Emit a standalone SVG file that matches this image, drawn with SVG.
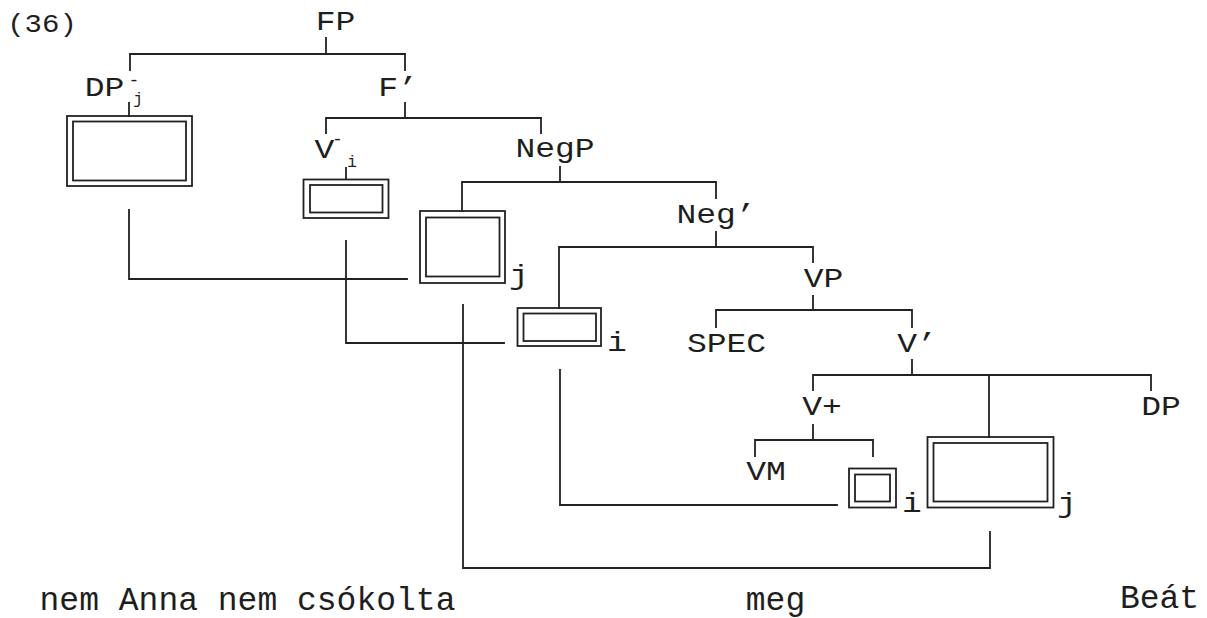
<svg xmlns="http://www.w3.org/2000/svg" width="1207" height="618" viewBox="0 0 1207 618">
<style>
.lbl{font-family:"Liberation Mono","DejaVu Sans Mono",monospace;font-size:33px;fill:#1e1e1e;text-anchor:middle}
.sm{font-family:"Liberation Mono","DejaVu Sans Mono",monospace;fill:#1e1e1e;text-anchor:middle}
.word{font-family:"Liberation Mono","DejaVu Sans Mono",monospace;font-size:33px;fill:#1e1e1e;text-anchor:middle}
.ln{stroke:#222;stroke-width:1.8;fill:none;stroke-linecap:square}
.box{stroke:#222;stroke-width:1.8;fill:none}
</style>
<rect width="1207" height="618" fill="#ffffff"/>
<g id="connectors">
  <path class="ln" d="M326 38V54M130 70V54H405V70"/>
  <path class="ln" d="M129 103V116"/>
  <path class="ln" d="M405 103V118M326 133V118H541V133"/>
  <path class="ln" d="M346 168V179"/>
  <path class="ln" d="M560 167V182M462 211V182H716V198"/>
  <path class="ln" d="M716 232V247M559 308V247H813V262"/>
  <path class="ln" d="M813 296V310M716 327V310H912V327"/>
  <path class="ln" d="M912 360V375M813 390V375H1151V390M989 375V437"/>
  <path class="ln" d="M813 425V440M755 456V440H873V456"/>
  <path class="ln" d="M129 210V279H407"/>
  <path class="ln" d="M346 241V343H504"/>
  <path class="ln" d="M463 305V568H990V532"/>
  <path class="ln" d="M560 370V505H837"/>
</g>
<g id="label-36"><text class="lbl" style="font-size:29px" transform="translate(42 32) scale(1 0.88)">(36)</text></g>
<g id="node-FP"><text class="lbl" transform="translate(335.5 29.5) scale(1 0.82)">FP</text></g>
<g id="node-DPj">
  <text class="lbl" transform="translate(104.5 95.5) scale(1 0.82)">DP</text>
  <text class="sm" x="134" y="86" font-size="18">-</text>
  <text class="sm" x="138" y="103.5" font-size="16">j</text>
</g>
<g id="box-DPj">
  <rect class="box" x="67" y="116" width="125" height="70"/>
  <rect class="box" x="73" y="121.5" width="113" height="59"/>
</g>
<g id="node-Fbar"><text class="lbl" transform="translate(398 96) scale(1 0.82)">F’</text></g>
<g id="node-Vi">
  <text class="lbl" transform="translate(324.5 158) scale(1 0.82)">V</text>
  <text class="sm" x="337.5" y="145" font-size="18">-</text>
  <text class="sm" x="352" y="167" font-size="16">i</text>
</g>
<g id="box-Vi">
  <rect class="box" x="303.5" y="179.5" width="85" height="38.5"/>
  <rect class="box" x="310" y="185" width="72.5" height="27.5"/>
</g>
<g id="node-NegP"><text class="lbl" transform="translate(555 157) scale(1 0.82)">NegP</text></g>
<g id="box-j1">
  <rect class="box" x="420" y="211" width="85" height="72"/>
  <rect class="box" x="426" y="217.5" width="73.5" height="59"/>
  <text class="lbl" transform="translate(519 284) scale(1 0.82)">j</text>
</g>
<g id="node-Negbar"><text class="lbl" transform="translate(716 222.5) scale(1 0.82)">Neg’</text></g>
<g id="box-i1">
  <rect class="box" x="517.5" y="308" width="83.5" height="38"/>
  <rect class="box" x="523.5" y="313.5" width="72.5" height="27.5"/>
  <text class="lbl" transform="translate(617 350.5) scale(1 0.82)">i</text>
</g>
<g id="node-VP"><text class="lbl" transform="translate(823.5 287) scale(1 0.82)">VP</text></g>
<g id="node-SPEC"><text class="lbl" transform="translate(726.5 352) scale(1 0.82)">SPEC</text></g>
<g id="node-Vbar"><text class="lbl" transform="translate(917 352) scale(1 0.82)">V’</text></g>
<g id="node-Vplus"><text class="lbl" transform="translate(822 415) scale(1 0.82)">V+</text></g>
<g id="node-DP"><text class="lbl" transform="translate(1161 415) scale(1 0.82)">DP</text></g>
<g id="node-VM"><text class="lbl" transform="translate(766 480) scale(1 0.82)">VM</text></g>
<g id="box-i2">
  <rect class="box" x="849" y="468.5" width="47" height="39"/>
  <rect class="box" x="855" y="474.5" width="35" height="27"/>
  <text class="lbl" transform="translate(912 511.5) scale(1 0.82)">i</text>
</g>
<g id="box-j2">
  <rect class="box" x="927.5" y="437" width="126" height="70.5"/>
  <rect class="box" x="933.5" y="443" width="114" height="58.5"/>
  <text class="lbl" transform="translate(1067 512) scale(1 0.82)">j</text>
</g>
<g id="words">
  <text class="word" x="247.5" y="610">nem Anna nem csókolta</text>
  <text class="word" x="775.5" y="610">meg</text>
  <text class="word" x="1159.5" y="608">Beát</text>
</g>
</svg>
